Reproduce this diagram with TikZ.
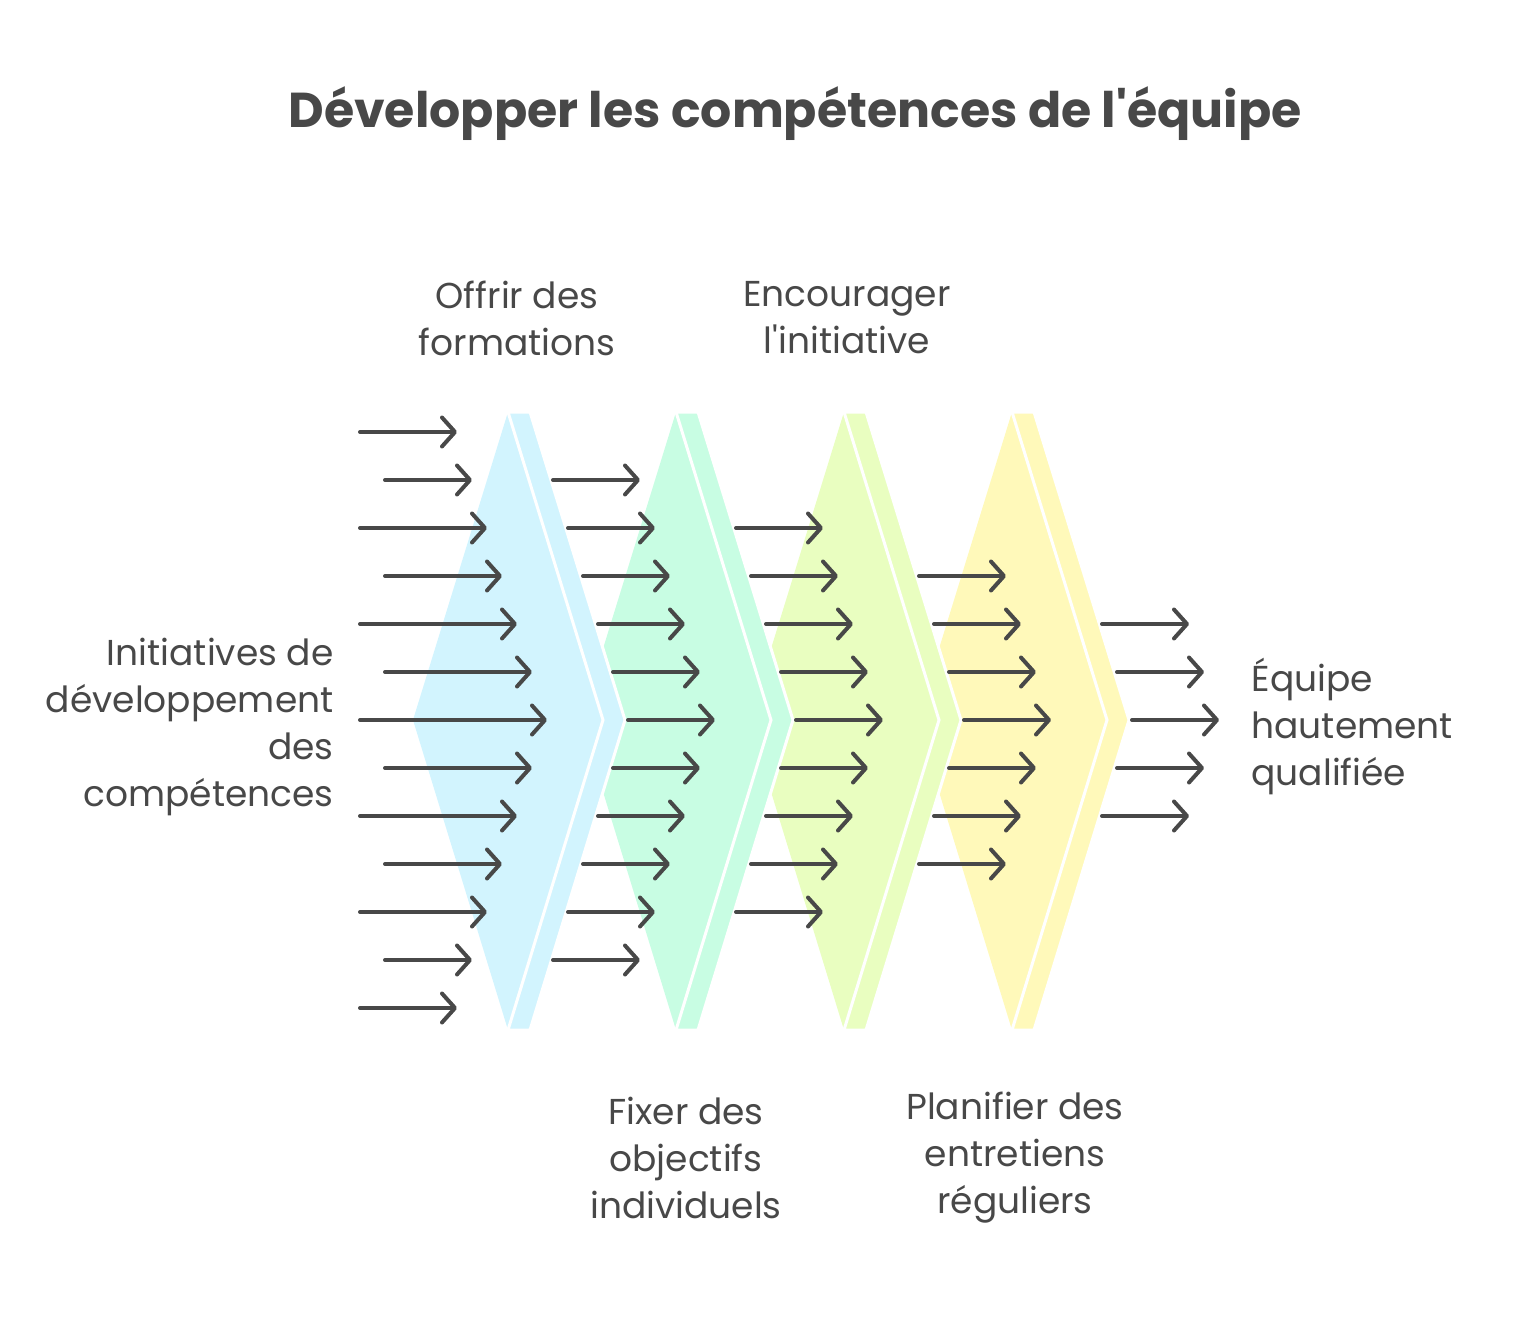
\documentclass[tikz,border=0pt]{standalone}
\usepackage{fontspec}
\usepackage{tikz}
\usetikzlibrary{arrows.meta}
\setmainfont{Poppins}[Ligatures=TeXOff]

\definecolor{inkgray}{HTML}{484848}
\definecolor{blueband}{HTML}{D2F4FE}
\definecolor{greenband}{HTML}{C8FDE3}
\definecolor{limeband}{HTML}{E9FEC0}
\definecolor{yellowband}{HTML}{FFF9BA}

\tikzset{
	flowarrow/.style={draw=inkgray, line width=4pt, line cap=round,
		-{Straight Barb[round, length=13pt, width=29pt]}},
	label/.style={text=inkgray, font=\fontsize{36}{47}\selectfont, align=center},
	titlelabel/.style={text=inkgray, font=\fontsize{49}{52}\selectfont\bfseries}
}

\begin{document}
\begin{tikzpicture}[x=1pt, y=-1pt]
		\useasboundingbox (0,0) rectangle (1516,1324);
		% filters, drawn from right to left so each band covers the next one
		\foreach \i/\col in {3/yellowband, 2/limeband, 1/greenband, 0/blueband} {
			\pgfmathsetmacro{\dx}{168*\i}
			\fill[\col] (508+\dx,412) -- (413+\dx,720) -- (508+\dx,1030) -- (603+\dx,720) -- cycle;
			\filldraw[fill=\col, draw=white, line width=3pt, line join=miter]
				(508+\dx,412) -- (530+\dx,412) -- (625+\dx,720) -- (530+\dx,1030)
				-- (508+\dx,1030) -- (603+\dx,720) -- cycle;
		}
		% arrows between the filters
		\foreach \s in {0,...,4} {
			\pgfmathtruncatemacro{\kmax}{12-\s}
			\foreach \k in {\s,...,\kmax} {
				\pgfmathtruncatemacro{\d}{6-abs(\k-6)}
				\pgfmathsetmacro{\xe}{457+168*\s+15*\d}
				\pgfmathsetmacro{\xs}{\s==0 ? (mod(\d,2)==0 ? 360 : 385) : \xe-87}
				\coordinate (a\s-\k-s) at (\xs, 720+48*\k-288);
				\coordinate (a\s-\k-e) at (\xe, 720+48*\k-288);
				\draw[flowarrow] (a\s-\k-s) -- (a\s-\k-e);
			}
		}
		\node[titlelabel] (title) at (795,114) {Développer les compétences de l'équipe};
		\node[label] (offrir) at (517,318) {Offrir des\\formations};
		\node[label] (encourager) at (847,318) {Encourager\\l'initiative};
		\node[label] (fixer) at (686,1158) {Fixer des\\objectifs\\individuels};
		\node[label] (planifier) at (1015,1158) {Planifier des\\entretiens\\réguliers};
		\node[label, align=right, anchor=east] (initiatives) at (337,727) {Initiatives de\\développement\\des\\compétences};
		\node[label, align=left, anchor=west] (equipe) at (1248,726) {Équipe\\hautement\\qualifiée};
	\end{tikzpicture}
\end{document}
